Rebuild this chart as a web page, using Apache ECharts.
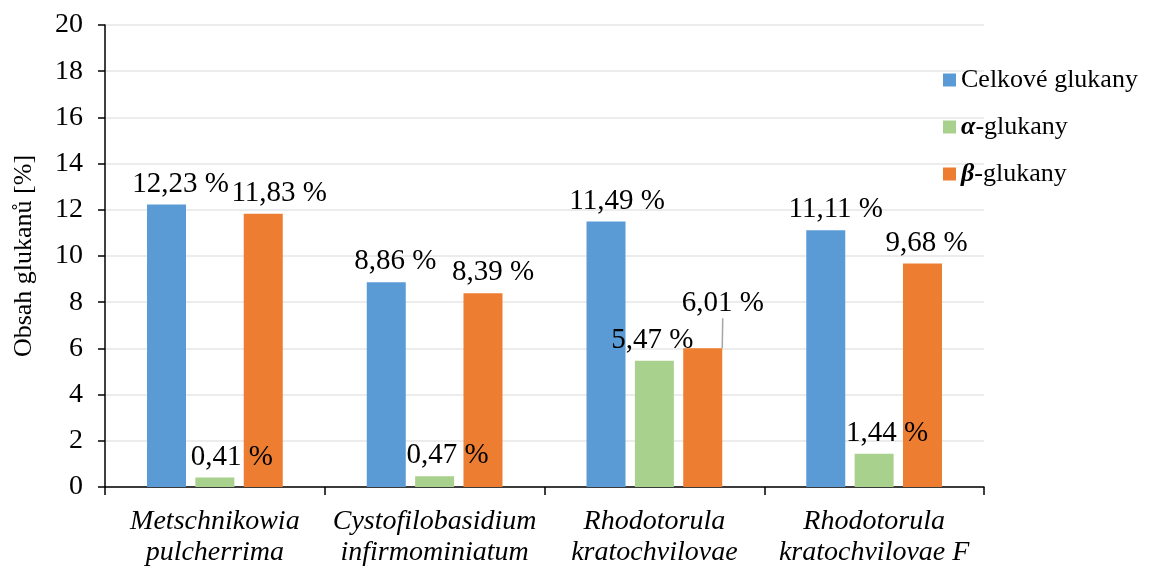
<!DOCTYPE html>
<html><head><meta charset="utf-8">
<script src="https://cdn.jsdelivr.net/npm/echarts@6/dist/echarts.min.js"></script>
<style>html,body{margin:0;padding:0;background:#fff}#c{width:1164px;height:568px}</style>
</head><body><div id="c"></div>
<script>
var categories = ['Metschnikowia\npulcherrima', 'Cystofilobasidium\ninfirmominiatum', 'Rhodotorula\nkratochvilovae', 'Rhodotorula\nkratochvilovae F'];
var celkove = [12.23, 8.86, 11.49, 11.11];
var alfa = [0.41, 0.47, 5.47, 1.44];
var beta = [11.83, 8.39, 6.01, 9.68];
var seriesNames = ['Celkové glukany', 'α-glukany', 'β-glukany'];
var yTicks = [0, 2, 4, 6, 8, 10, 12, 14, 16, 18, 20];

var FONT = '"Liberation Serif","Times New Roman",serif';
function fmt(p){ return p.value.toFixed(2).replace('.', ',') + ' %'; }
var labelBase = {show:true, position:'top', distance:6, formatter:fmt, fontFamily:FONT, fontSize:29, color:'#000'};

// label nudges (pixels) mimicking the reference's label placement
var nudgeX = [[14, 9, 11, 10], [17, 13, -2, 13], [16, 10, 20, 4]];
var nudgeY = [[0, 0, 0, 0], [0, 0, 0, 0], [0, 0, -24, 0]];
function layoutFor(s){
  return function(p){ return {dx:nudgeX[s][p.dataIndex], dy:nudgeY[s][p.dataIndex]}; };
}

var betaData = beta.map(function(v, i){
  return i === 2 ? {value:v, labelLine:{show:true}} : v;
});

var chart = echarts.init(document.getElementById('c'), null, {renderer:'canvas'});
chart.setOption({
  animation:false,
  textStyle:{fontFamily:FONT},
  grid:{left:105, right:180, top:25, bottom:80},
  legend:{
    orient:'vertical', left:938, top:62, itemWidth:13, itemHeight:13, itemGap:21,
    icon:'rect',
    textStyle:{fontFamily:FONT, fontSize:26, color:'#000',
      rich:{g:{fontFamily:FONT, fontSize:26, fontWeight:'bold', fontStyle:'italic', color:'#000'},
            t:{fontFamily:FONT, fontSize:26, color:'#000'}}},
    formatter:function(n){
      if(n.charAt(0)==='α'||n.charAt(0)==='β'){ return '{g|'+n.charAt(0)+'}{t|'+n.slice(1)+'}'; }
      return n;
    },
    data:seriesNames
  },
  xAxis:{
    type:'category', data:categories,
    axisLine:{lineStyle:{color:'#000', width:1.5}},
    axisTick:{show:true, length:8, lineStyle:{color:'#000', width:1.5}},
    axisLabel:{fontFamily:FONT, fontSize:28, fontStyle:'italic', color:'#000', lineHeight:31, margin:19, interval:0}
  },
  yAxis:{
    type:'value', min:0, max:20, interval:2,
    name:'Obsah glukanů [%]', nameLocation:'middle', nameGap:68,
    nameTextStyle:{fontFamily:FONT, fontSize:26, color:'#000'},
    axisLine:{show:true, lineStyle:{color:'#000', width:1.5}},
    axisTick:{show:true, length:7, lineStyle:{color:'#000', width:1.5}},
    axisLabel:{fontFamily:FONT, fontSize:28, color:'#000', margin:22,
      formatter:function(v){ return yTicks.indexOf(v)>=0 ? String(v) : ''; }},
    splitLine:{show:true, lineStyle:{color:'#e6e6e6', width:1.5}}
  },
  series:[
    {name:seriesNames[0], type:'bar', data:celkove, barWidth:39, barGap:'24%',
     itemStyle:{color:'#5b9bd5'}, label:labelBase, labelLayout:layoutFor(0)},
    {name:seriesNames[1], type:'bar', data:alfa, barWidth:39, barGap:'24%',
     itemStyle:{color:'#a9d18e'}, label:labelBase, labelLayout:layoutFor(1)},
    {name:seriesNames[2], type:'bar', data:betaData, barWidth:39, barGap:'24%',
     itemStyle:{color:'#ed7d31'}, label:labelBase, labelLayout:layoutFor(2),
     labelLine:{show:false, lineStyle:{color:'#a6a6a6', width:1.5}}}
  ]
});
</script></body></html>
